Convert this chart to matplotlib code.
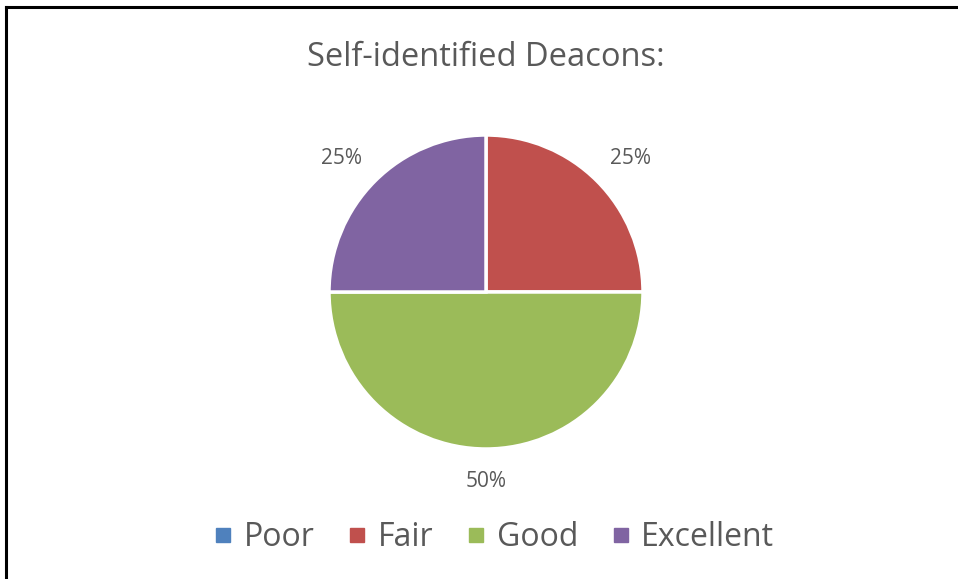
import numpy as np
import matplotlib.pyplot as plt
from matplotlib.lines import Line2D

# Data
categories = ["Poor", "Fair", "Good", "Excellent"]
shares = [0, 25, 50, 25]
colors = ["#4F81BD", "#C0504D", "#9BBB59", "#8064A2"]
title = "Self-identified Deacons:"

text_color = "#595959"
plt.rcParams['font.family'] = ['Open Sans', 'DejaVu Sans']

fig = plt.figure(figsize=(9.58, 5.79), dpi=100)

# pie area: centre (486, 292) px, radius 157 px
W, H = 958, 579
ax = fig.add_axes([(486 - 157) / W, (H - 449) / H, 314 / W, 314 / H])


def pct(v):
    return f"{v:.0f}%" if v > 0 else ""


wedges, _, autotexts = ax.pie(
    shares, colors=colors, startangle=90, counterclock=False,
    autopct=pct,
    wedgeprops=dict(edgecolor="white", linewidth=2.5),
    textprops=dict(color=text_color, fontsize=15))
ax.set_xlim(-1, 1)
ax.set_ylim(-1, 1)
ax.set_aspect("equal")

# "outside end" labels: nearest corner of the text just beyond the rim
for w, t in zip(wedges, autotexts):
    ang = np.deg2rad((w.theta1 + w.theta2) / 2)
    c, s = np.cos(ang), np.sin(ang)
    t.set_position((1.12 * c, (1.11 if s > 0 else 1.14) * s))
    t.set_ha("left" if c > 0.1 else "right" if c < -0.1 else "center")
    t.set_va("bottom" if s > 0.1 else "top" if s < -0.1 else "center")

fig.text(486 / W, 1 - 57 / H, title, ha="center", va="center",
         fontsize=23.5, color=text_color)

handles = [Line2D([], [], marker="s", linestyle="none", markersize=10,
                  markerfacecolor=c, markeredgecolor=c) for c in colors]
fig.legend(handles, categories, loc="center", ncol=4,
           bbox_to_anchor=(493 / W, 1 - 538 / H), frameon=False,
           fontsize=23, labelcolor=text_color, handletextpad=0.3,
           columnspacing=0.98, handlelength=0.7)

# top and left border lines
fig.add_artist(Line2D([6 / W, 1], [1 - 7 / H, 1 - 7 / H], color="black", linewidth=2.2))
fig.add_artist(Line2D([6 / W, 6 / W], [0, 1 - 7 / H], color="black", linewidth=2.2))

fig.savefig("out.png", dpi=100, facecolor="white")
